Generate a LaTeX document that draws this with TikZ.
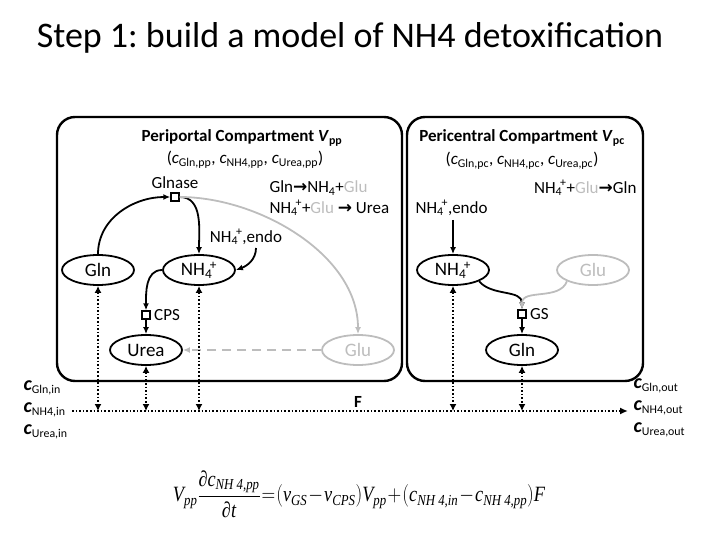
\documentclass[tikz,border=0pt]{standalone}
\usepackage{amsmath}
\usepackage{fontspec}
\setmainfont{Carlito}
\newfontfamily\symfont{DejaVu Sans}
\newfontfamily\eqfont{Liberation Serif}
\usetikzlibrary{arrows.meta, positioning, shapes.geometric}
\definecolor{lGrey}{HTML}{BDBDBD}
\frenchspacing
\newcommand{\nhf}{NH\textsubscript{4}\kern-0.12em\textsuperscript{+}}
\newcommand{\nhs}{NH\textsubscript{4}}
\newcommand{\rarr}{{\symfont\bfseries →}}
\newcommand{\cc}[1]{\textit{c}\textsubscript{#1}}
\newcommand{\cb}[1]{{\fontsize{20}{20}\selectfont\textbf{\textit{c}}}\textsubscript{#1}}
\newcommand{\ev}[1]{\text{\eqfont\itshape #1}}

\begin{document}
\begin{tikzpicture}[x=1pt, y=-1pt, font=\fontsize{17}{19}\selectfont,
    comp/.style={draw, line width=2.4pt, rounded corners=18pt},
    spec/.style={ellipse, draw, line width=1.8pt, minimum width=72pt, minimum height=30pt, inner sep=0pt, font=\fontsize{19}{21}\selectfont},
    gspec/.style={spec, draw=lGrey, text=lGrey},
    enz/.style={draw, line width=1.4pt, fill=white, minimum size=8pt, inner sep=0pt},
    rx/.style={line width=1.8pt, -{Latex[length=7pt,width=6pt]}},
    grx/.style={rx, draw=lGrey},
    flux/.style={line width=1.6pt, dotted, {Latex[length=7pt,width=7pt]}-{Latex[length=7pt,width=7pt]}}]
  \useasboundingbox (0,0) rectangle (720,540);

  % title
  \node (title) at (350,38) {\fontsize{36}{40}\selectfont Step 1: build a model of NH4 detoxification};

  % compartments
  \draw[comp] (57,117) rectangle (402,381);
  \draw[comp] (407,117) rectangle (643,381);
  \node (pptitle) at (242,138) {\textbf{Periportal Compartment \textit{V}\textsubscript{pp}}};
  \node (ppconc) at (245,160) {(\cc{Gln,pp}, \cc{NH4,pp}, \cc{Urea,pp})};
  \node (pctitle) at (522,138) {\textbf{Pericentral Compartment \textit{V}\textsubscript{pc}}};
  \node (pcconc) at (522,161) {(\cc{Gln,pc}, \cc{NH4,pc}, \cc{Urea,pc})};

  % periportal reactions
  \node[anchor=west] (ppreac1) at (266,188) {Gln\rarr\nhs+\textcolor{lGrey}{Glu}};
  \node[anchor=west] (ppreac2) at (266,208) {\nhf+\textcolor{lGrey}{Glu} \rarr{} Urea};
  \node[anchor=east] (pcreac) at (640,188) {\nhf+\textcolor{lGrey}{Glu}\rarr Gln};

  % periportal species
  \node[spec] (glnpp) at (98,270) {Gln};
  \node[spec] (nhpp) at (199,270) {\nhf};
  \node[spec] (ureapp) at (146,350) {Urea};
  \node[gspec] (glupp) at (358,350) {Glu};
  \node[enz] (glnase) at (175,197) {};
  \node[above=0pt of glnase] (glnaselbl) {Glnase};
  \node[enz] (cps) at (146,315) {};
  \node[right=0pt of cps] (cpslbl) {CPS};
  \node (endopp) at (246,237) {\nhf,endo};
  \coordinate (endoppa) at (256,248);

  \draw[rx] (glnpp.north) to[out=90, in=180] (glnase.west);
  \draw[rx] (glnase.east) to[out=0, in=90] (nhpp.north);
  \draw[grx] (glnase.east) to[out=0, in=90, looseness=0.9] (glupp.north);
  \draw[rx] (endoppa) to[out=-90, in=20] (nhpp.east);
  \draw[rx] (nhpp.west) to[out=180, in=90] (cps.north);
  \draw[rx] (cps.south) -- (ureapp.north);
  \draw[grx, dashed, dash pattern=on 9pt off 6pt] (glupp.west) -- (ureapp.east);

  % pericentral species
  \node[spec] (nhpc) at (453,270) {\nhf};
  \node[gspec] (glupc) at (593,270) {Glu};
  \node[spec] (glnpc) at (522,350) {Gln};
  \node[enz] (gs) at (522,314) {};
  \node[right=0pt of gs] (gslbl) {GS};
  \node[anchor=west] (endopc) at (412,208) {\nhf,endo};
  \coordinate (endopca) at (453,220);

  \draw[rx] (endopca) -- (nhpc.north);
  \draw[rx] (nhpc.south east) to[out=-50, in=90] (gs.north);
  \draw[grx] (glupc.south west) to[out=-110, in=90] (gs.north);
  \draw[rx] (gs.south) -- (glnpc.north);

  % blood flow
  \coordinate (fin) at (72,411);
  \coordinate (fout) at (628,411);
  \draw[line width=1.6pt, dotted, -{Latex[length=8pt,width=7pt]}] (fin) -- (fout);
  \node (flbl) at (358,402) {\textbf{F}};
  \foreach \s in {glnpp, ureapp, nhpp, nhpc, glnpc}
    \draw[flux] (\s.south) -- (\s.south |- fin);

  \node[anchor=west] (cin1) at (20,388) {\cb{Gln,in}};
  \node[anchor=west] (cin2) at (20,410) {\cb{NH4,in}};
  \node[anchor=west] (cin3) at (20,432) {\cb{Urea,in}};
  \node[anchor=west] (cout1) at (630,386) {\cb{Gln,out}};
  \node[anchor=west] (cout2) at (630,408) {\cb{NH4,out}};
  \node[anchor=west] (cout3) at (630,430) {\cb{Urea,out}};

  % equation
  \node[inner sep=0pt] (eqn) at (359,494) {\resizebox*{372pt}{47pt}{\fontsize{20}{24}\selectfont \thickmuskip=1mu \medmuskip=1mu
    $\displaystyle \ev{V}_{\ev{pp}}\frac{\ev{∂c}_{\ev{NH 4,pp}}}{\ev{∂t}}=(\ev{v}_{\ev{GS}}-\ev{v}_{\ev{CPS}})\ev{V}_{\ev{pp}}+(\ev{c}_{\ev{NH 4,in}}-\ev{c}_{\ev{NH 4,pp}})\ev{F}$}};
\end{tikzpicture}
\end{document}
